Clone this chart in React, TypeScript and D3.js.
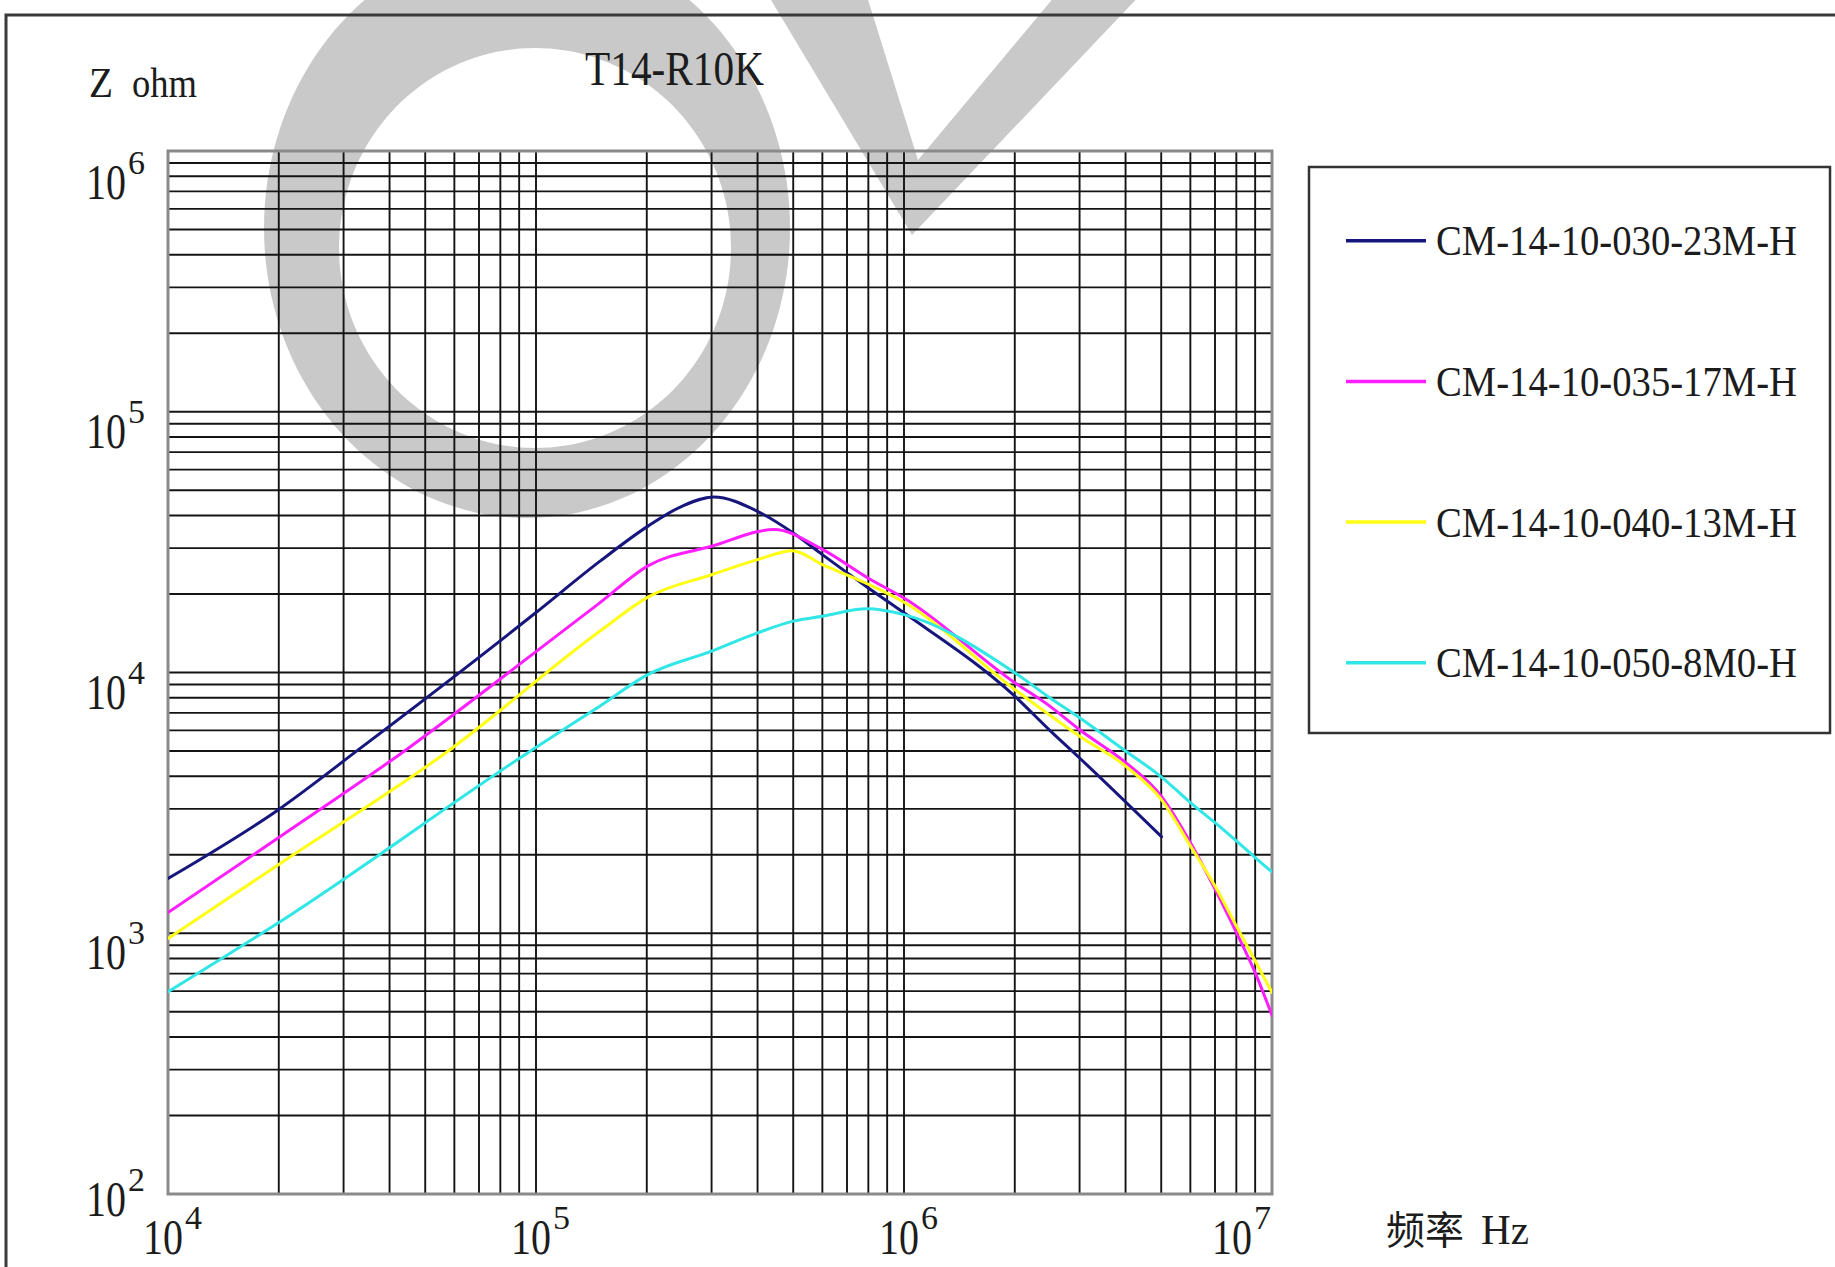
import React from "react";
import * as d3 from "d3";

const W = 1835;
const H = 1267;

// ---------- data ----------
const SERIES_NAMES = [
  "CM-14-10-030-23M-H",
  "CM-14-10-035-17M-H",
  "CM-14-10-040-13M-H",
  "CM-14-10-050-8M0-H",
];
const SERIES_COLORS = ["#16167c", "#ff1eff", "#ffff14", "#30e6e6"];

const F_030 = [1e4, 2e4, 3.3e4, 1e5, 1.49e5, 2.02e5, 2.5e5, 3.04e5, 4e5, 5e5, 6e5, 8e5, 1e6, 2e6, 2.49e6, 3e6, 5.01e6];
const Z_030 = [1622, 2985, 5070, 16980, 26670, 36500, 43500, 47100, 41500, 34280, 28310, 21090, 16940, 8110, 6000, 4700, 2344];

const F_035 = [1e4, 2e4, 4.45e4, 1e5, 1.49e5, 2.02e5, 3e5, 4.44e5, 6e5, 8e5, 1e6, 2e6, 2.49e6, 3e6, 4e6, 5e6, 6e6, 7e6, 8e6, 9e6, 1e7];
const Z_035 = [1200, 2328, 5070, 12020, 18490, 25700, 30480, 35320, 29650, 23000, 19300, 9140, 7430, 6030, 4520, 3357, 2228, 1476, 1007, 706, 484];

const F_040 = [1e4, 2e4, 5.85e4, 1.49e5, 2.02e5, 3e5, 4e5, 4.97e5, 6e5, 8e5, 1e6, 2e6, 3e6, 4e6, 5e6, 6e6, 7e6, 8e6, 9e6, 1e7];
const Z_040 = [955, 1837, 5070, 14390, 19500, 23710, 27100, 29310, 25940, 21800, 18600, 8610, 5700, 4375, 3260, 2163, 1517, 1067, 783, 593];

const F_050 = [1e4, 2e4, 9.8e4, 1.49e5, 2e5, 3e5, 4e5, 5e5, 6e5, 7.93e5, 1e6, 2e6, 2.49e6, 3e6, 4e6, 5e6, 6e6, 7e6, 8e6, 9e6, 1e7];
const Z_050 = [596, 1099, 5070, 7430, 9770, 12080, 14190, 15740, 16440, 17540, 16670, 9980, 8000, 6700, 5000, 3980, 3170, 2655, 2260, 1950, 1718];

const SERIES_F = [F_030, F_035, F_040, F_050];
const SERIES_Z = [Z_030, Z_035, Z_040, Z_050];

const X_DECADES = [1e4, 1e5, 1e6, 1e7];
const X_EXPONENTS = ["4", "5", "6", "7"];
const Y_DECADES = [1e2, 1e3, 1e4, 1e5, 1e6];
const Y_EXPONENTS = ["2", "3", "4", "5", "6"];
const MINOR_MULTIPLIERS = [1, 2, 3, 4, 5, 6, 7, 8, 9];

const TITLE = "T14-R10K";
const Y_TITLE_A = "Z";
const Y_TITLE_B = "ohm";
const X_TITLE_CJK = "频率";
const X_TITLE_UNIT = "Hz";

// ---------- layout ----------
const PL = 168;
const PR = 1272;
const PT = 151;
const PB = 1194;

const SERIF = "'Liberation Serif', 'DejaVu Serif', serif";
const CJK = "'Noto Sans CJK SC', 'Noto Sans', sans-serif";
const INK = "#1c1c1c";
const WM = "#c9c9c9";

function ellipsePts(cx: number, cy: number, rx: number, ry: number, rot: number, n = 160) {
  const a = (rot * Math.PI) / 180;
  const pts: [number, number][] = [];
  for (let i = 0; i < n; i++) {
    const t = (i / n) * Math.PI * 2;
    const px = rx * Math.cos(t);
    const py = ry * Math.sin(t);
    pts.push([cx + px * Math.cos(a) - py * Math.sin(a), cy + px * Math.sin(a) + py * Math.cos(a)]);
  }
  return "M" + pts.map((p) => p[0].toFixed(1) + "," + p[1].toFixed(1)).join("L") + "Z";
}

function PowerLabel({ x, y, exp }: { x: number; y: number; exp: string }) {
  return (
    <text x={x} y={y} fill={INK} fontFamily={SERIF}>
      <tspan fontSize={50} textLength={40} lengthAdjust="spacingAndGlyphs">
        10
      </tspan>
      <tspan dx={2} dy={-25} fontSize={34} textLength={17} lengthAdjust="spacingAndGlyphs">
        {exp}
      </tspan>
    </text>
  );
}

export default function App() {
  const x = d3.scaleLog().domain([1e4, 1e7]).range([PL, PR]);
  const y = d3.scaleLog().domain([1e2, 1e6]).range([PB, PT]);

  const xGrid: number[] = [];
  X_DECADES.slice(0, -1).forEach((d) => MINOR_MULTIPLIERS.forEach((m) => xGrid.push(d * m)));
  xGrid.push(X_DECADES[X_DECADES.length - 1]);
  const yGrid: number[] = [];
  Y_DECADES.slice(0, -1).forEach((d) => MINOR_MULTIPLIERS.forEach((m) => yGrid.push(d * m)));
  yGrid.push(Y_DECADES[Y_DECADES.length - 1]);

  const line = d3
    .line<[number, number]>()
    .x((d) => x(d[0]))
    .y((d) => y(d[1]))
    .curve(d3.curveMonotoneX);

  const ringPath = ellipsePts(527, 228, 263, 290, 0) + ellipsePts(535, 248, 196, 200, 0);
  const vPath = "M765,-10 L865,-10 L918,160 L1060,-10 L1145,-10 L912,235 Z";

  const legendRowY = (i: number) => 240.7 + i * 140.7;

  return (
    <svg
      width={W}
      height={H}
      style={{ position: "absolute", left: 0, top: 0, display: "block", background: "#fff" }}
      xmlns="http://www.w3.org/2000/svg"
    >
      <rect x={0} y={0} width={W} height={H} fill="#fff" />
      {/* watermark */}
      <path d={ringPath} fill={WM} fillRule="evenodd" />
      <path d={vPath} fill={WM} />

      {/* outer frame */}
      <rect x={6} y={15} width={W + 100} height={H + 100} fill="none" stroke="#3a3a3a" strokeWidth={3} />

      {/* title */}
      <text x={585} y={85} fontFamily={SERIF} fontSize={48} fill={INK} textLength={179} lengthAdjust="spacingAndGlyphs">
        {TITLE}
      </text>
      <text x={89} y={97} fontFamily={SERIF} fontSize={42} fill={INK}>
        <tspan textLength={24} lengthAdjust="spacingAndGlyphs">{Y_TITLE_A}</tspan>
        <tspan x={132} textLength={65} lengthAdjust="spacingAndGlyphs">{Y_TITLE_B}</tspan>
      </text>

      {/* grid */}
      <g stroke="#141414" strokeWidth={1.9}>
        {xGrid.map((v, i) => (
          <line key={"gx" + i} x1={x(v)} x2={x(v)} y1={PT} y2={PB} />
        ))}
        {yGrid.map((v, i) => (
          <line key={"gy" + i} x1={PL} x2={PR} y1={y(v)} y2={y(v)} />
        ))}
      </g>
      <rect x={PL} y={PT} width={PR - PL} height={PB - PT} fill="none" stroke="#8a8a8a" strokeWidth={3} />

      {/* curves */}
      <defs>
        <clipPath id="plotclip">
          <rect x={PL} y={PT} width={PR - PL} height={PB - PT} />
        </clipPath>
      </defs>
      <g clipPath="url(#plotclip)" fill="none" strokeWidth={3} strokeLinejoin="round" strokeLinecap="round">
        {SERIES_F.map((fs, si) => (
          <path
            key={"s" + si}
            d={line(fs.map((f, k) => [f, SERIES_Z[si][k]] as [number, number])) || ""}
            stroke={SERIES_COLORS[si]}
          />
        ))}
      </g>

      {/* y tick labels */}
      {Y_DECADES.map((d, i) => (
        <PowerLabel key={"yl" + i} x={86} y={Math.min(Math.max(y(d) + 36, PT + 48), PB + 22)} exp={Y_EXPONENTS[i]} />
      ))}

      {/* x tick labels */}
      {X_DECADES.map((d, i) => (
        <PowerLabel key={"xl" + i} x={Math.min(x(d) - 25, PR - 60)} y={1254} exp={X_EXPONENTS[i]} />
      ))}

      {/* x title */}
      <text x={1386} y={1244} fill={INK}>
        <tspan fontFamily={CJK} fontSize={39}>
          {X_TITLE_CJK}
        </tspan>
        <tspan x={1481} fontFamily={SERIF} fontSize={42} textLength={48} lengthAdjust="spacingAndGlyphs">
          {X_TITLE_UNIT}
        </tspan>
      </text>

      {/* legend */}
      <rect x={1309} y={167} width={521} height={566} fill="#fff" stroke="#333" strokeWidth={2.5} />
      {SERIES_NAMES.map((name, i) => (
        <g key={"lg" + i}>
          <line x1={1346} x2={1426} y1={legendRowY(i)} y2={legendRowY(i)} stroke={SERIES_COLORS[i]} strokeWidth={3.5} />
          <text
            x={1436}
            y={legendRowY(i) + 14.5}
            fontFamily={SERIF}
            fontSize={42}
            fill={INK}
            textLength={361}
            lengthAdjust="spacingAndGlyphs"
          >
            {name}
          </text>
        </g>
      ))}
    </svg>
  );
}
